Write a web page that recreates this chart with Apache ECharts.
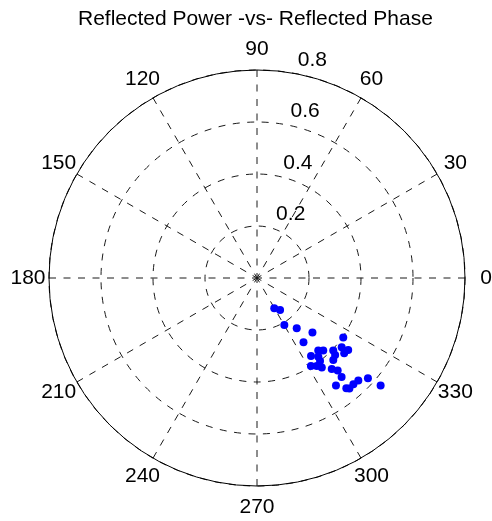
<!DOCTYPE html>
<html><head><meta charset="utf-8">
<script src="https://cdn.jsdelivr.net/npm/echarts@6/dist/echarts.min.js"></script>
<style>html,body{margin:0;padding:0;background:#fff}#c{width:492px;height:521px}</style>
</head><body><div id="c"></div>
<script>
const titleText = 'Reflected Power -vs- Reflected Phase';
const angleTicks = [0, 30, 60, 90, 120, 150, 180, 210, 240, 270, 300, 330];
const radiusTicks = [0.2, 0.4, 0.6, 0.8];
const magnitude = [0.134,0.152,0.209,0.246,0.299,0.305,0.403,0.365,0.378,0.405,0.421,0.447,0.443,0.365,0.384,0.422,0.431,0.401,0.397,0.409,0.425,0.453,0.472,0.501,0.513,0.546,0.554,0.552,0.554,0.575,0.630];
const phaseDeg = [299.7,305.7,300.2,308.4,315.5,305.9,325.4,310.2,312.4,316.4,320.7,321.7,319.2,304.7,307.9,315.4,312.9,307.2,301.5,304.2,305.9,309.4,311.1,310.5,306.3,309.0,309.9,312.2,314.7,317.9,319.0];

const FONT = 'Liberation Sans, Arial, Helvetica, sans-serif';
const chart = echarts.init(document.getElementById('c'), null, {renderer: 'canvas'});
const points = magnitude.map((r, i) => [r, phaseDeg[i]]);
const rMax = radiusTicks[radiusTicks.length - 1];
const rStep = radiusTicks[1] - radiusTicks[0];
const aStep = angleTicks[1] - angleTicks[0];

// label boxes so that each angle label is centred at 1.1 x the outer radius
const LABEL_GAP = 21;
const angleRich = {};
angleTicks.forEach(a => {
  const t = a * Math.PI / 180;
  angleRich['a' + a] = {
    width: Math.max(2 * LABEL_GAP * Math.abs(Math.cos(t)), 1),
    height: Math.max(2 * LABEL_GAP * Math.abs(Math.sin(t)), 1),
    align: 'center', verticalAlign: 'middle',
    fontFamily: FONT, fontSize: 21, color: '#000'
  };
});

const gridLine = {color: '#1a1a1a', width: 1, type: [7, 7.5]};

chart.setOption({
  animation: false,
  backgroundColor: '#fff',
  title: {
    text: titleText, left: 73, top: 4,
    textStyle: {fontFamily: FONT, fontSize: 21, fontWeight: 'normal', color: '#000'}
  },
  polar: [
    {center: [257, 278], radius: 208},
    {center: [257, 278], radius: 208}
  ],
  angleAxis: [
    {
      polarIndex: 0, type: 'value', min: 0, max: 360, interval: aStep,
      startAngle: 0, clockwise: false, z: 3,
      axisLine: {show: true, lineStyle: {color: '#000', width: 1}},
      axisTick: {show: false},
      axisLabel: {
        show: true, margin: 0,
        fontFamily: FONT, fontSize: 21, color: '#000',
        rich: angleRich,
        formatter: v => angleTicks.includes(v) ? '{a' + v + '|' + v + '}' : ''
      },
      splitLine: {show: true, lineStyle: gridLine}
    },
    {
      polarIndex: 1, type: 'value', min: 0, max: 360, startAngle: 82, clockwise: false,
      show: false
    }
  ],
  radiusAxis: [
    {
      polarIndex: 0, type: 'value', min: 0, max: rMax, interval: rStep, z: 2,
      axisLine: {show: false}, axisTick: {show: false}, axisLabel: {show: false},
      splitLine: {show: true, lineStyle: gridLine}
    },
    {
      polarIndex: 1, type: 'value', min: 0, max: rMax, interval: rStep,
      axisLine: {show: false}, axisTick: {show: false}, splitLine: {show: false},
      axisLabel: {
        show: true, margin: -12, align: 'left', verticalAlign: 'bottom',
        padding: [0, 0, 3, 0],
        showMinLabel: false, fontFamily: FONT, fontSize: 21, color: '#000',
        formatter: v => { const t = radiusTicks.find(x => Math.abs(x - v) < 1e-9); return t === undefined ? '' : t.toFixed(1); }
      }
    }
  ],
  series: [{
    type: 'scatter', coordinateSystem: 'polar', polarIndex: 0,
    symbol: 'circle', symbolSize: 8, clip: false,
    itemStyle: {color: '#0000ff', opacity: 1},
    data: points, z: 5
  }]
});
</script></body></html>
